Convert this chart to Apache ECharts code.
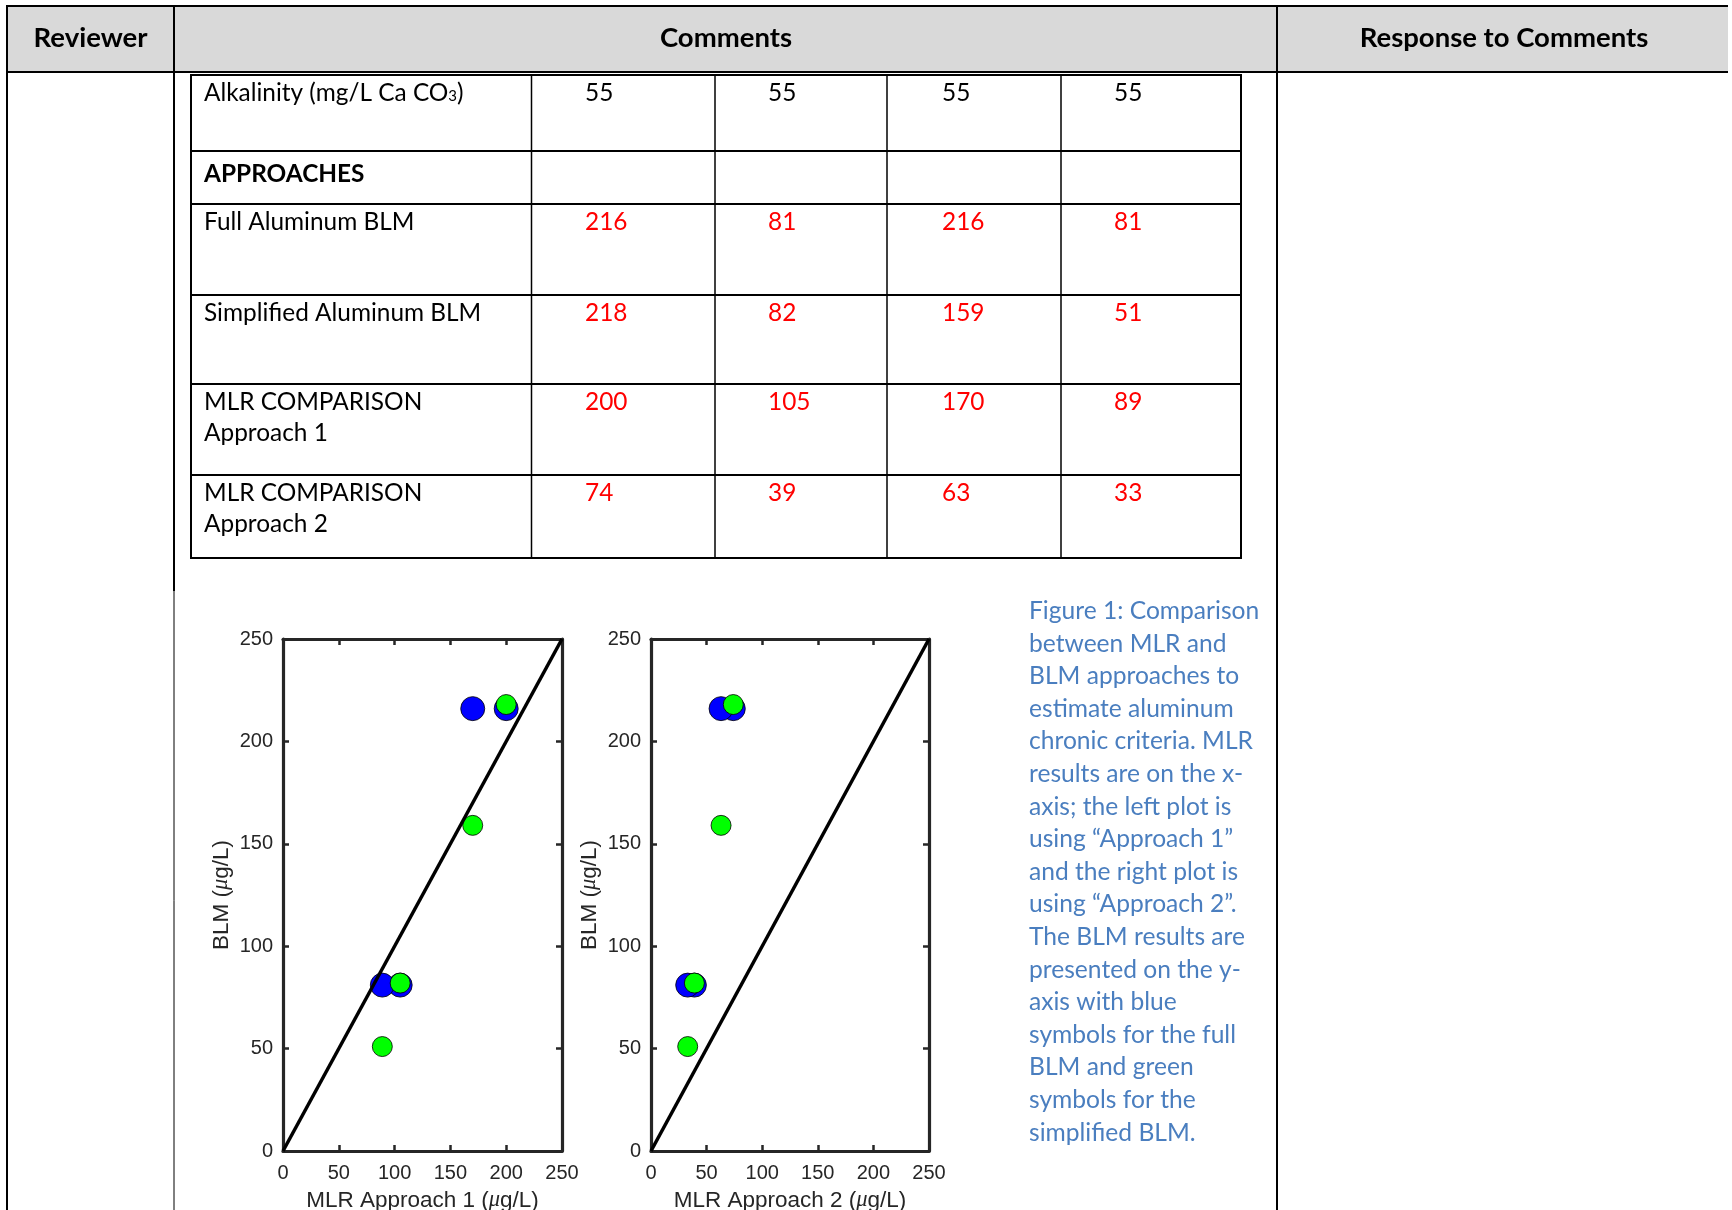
<!DOCTYPE html>
<html><head><meta charset="utf-8">
<script src="https://cdn.jsdelivr.net/npm/echarts@6/dist/echarts.min.js"></script>
<style>html,body{margin:0;padding:0;background:#fff;overflow:hidden}#c{width:1732px;height:1210px}</style>
</head><body><div id="c"></div>
<script>
// ---------- data ----------
const headers = ["Reviewer", "Comments", "Response to Comments"];
const rowLabels = [
  ["{n|Alkalinity (mg/L Ca CO}{s|3}{n|)}"],
  ["APPROACHES"],
  ["Full Aluminum BLM"],
  ["Simplified Aluminum BLM"],
  ["MLR COMPARISON", "Approach 1"],
  ["MLR COMPARISON", "Approach 2"]
];
const alkalinity    = [55, 55, 55, 55];
const fullBLM       = [216, 81, 216, 81];
const simplifiedBLM = [218, 82, 159, 51];
const mlrApproach1  = [200, 105, 170, 89];
const mlrApproach2  = [74, 39, 63, 33];
const tableRows = [alkalinity, null, fullBLM, simplifiedBLM, mlrApproach1, mlrApproach2];
const axisTicks = [0, 50, 100, 150, 200, 250];
const captionLines = [
  "Figure 1: Comparison", "between MLR and", "BLM approaches to", "estimate aluminum",
  "chronic criteria. MLR", "results are on the x-", "axis; the left plot is",
  "using \u201cApproach 1\u201d", "and the right plot is", "using \u201cApproach 2\u201d.",
  "The BLM results are", "presented on the y-", "axis with blue", "symbols for the full",
  "BLM and green", "symbols for the", "simplified BLM."
];

// ---------- layout ----------
const DOC_FONT = 'Lato';
const BODY = 24.4, HEAD = 27.5, CAP = 24.6;
const rowTops = [76, 151, 204, 295, 384, 475];
const rowTextY = [93, 174, 222, 313, 402, 493];
const colX = [191, 531.5, 715, 887, 1061, 1241];
const valX = [585, 768, 942, 1114];
const g = [];
function line(x1, y1, x2, y2, w, c) {
  g.push({type: 'line', silent: true, shape: {x1, y1, x2, y2}, style: {stroke: c || '#000', lineWidth: w}});
}
function text(t, x, y, opt) {
  opt = opt || {};
  g.push({type: 'text', silent: true, x, y, style: Object.assign({
    text: t, fontFamily: DOC_FONT, fontSize: BODY, fill: '#000',
    align: 'left', verticalAlign: 'middle'
  }, opt)});
}
// header background
g.push({type: 'rect', silent: true, shape: {x: 7, y: 6, width: 1721, height: 66}, style: {fill: '#d9d9d9'}});
line(6, 6, 1728, 6, 2);
line(6, 72, 1728, 72, 2);
line(7, 5, 7, 1210, 2);
line(174, 5, 174, 591, 2);
line(174, 591, 174, 1210, 1);
line(1277, 5, 1277, 1210, 2);
// inner table
g.push({type: 'rect', silent: true, shape: {x: 191, y: 75, width: 1050, height: 483}, style: {fill: 'none', stroke: '#000', lineWidth: 2}});
rowTops.slice(1).forEach(y => line(191, y, 1241, y, 2));
colX.slice(1, 5).forEach(x => line(x, 75, x, 558, 1.5));
// header texts
text(headers[0], 90.5, 38, {fontWeight: 'bold', fontSize: HEAD, align: 'center'});
text(headers[1], 726, 38, {fontWeight: 'bold', fontSize: HEAD, align: 'center'});
text(headers[2], 1504, 38, {fontWeight: 'bold', fontSize: HEAD, align: 'center'});
// rows
rowLabels.forEach((lines, i) => {
  lines.forEach((t, j) => {
    const o = {};
    if (i === 1) o.fontWeight = 'bold';
    if (t.indexOf('{') >= 0) {
      o.rich = {n: {fontFamily: DOC_FONT, fontSize: BODY, fill: '#000'}, s: {fontFamily: DOC_FONT, fontSize: 15, fill: '#000', padding: [6, 0, 0, 0]}};
    }
    text(t, 204, rowTextY[i] + j * 31, o);
  });
  const vals = tableRows[i];
  if (vals) vals.forEach((v, k) => text(String(v), valX[k], rowTextY[i], {fill: i === 0 ? '#000' : '#ff0000'}));
});
// caption
captionLines.forEach((t, i) => text(t, 1029, 611 + i * 32.6, {fill: '#4a7ebf', fontSize: CAP}));

// ---------- charts ----------
const AX = '#262626';
const tickFont = {fontFamily: 'Liberation Sans', fontSize: 20, color: AX};
const nameStyle = {fontFamily: 'Liberation Sans', fontSize: 22.5, color: AX,
  rich: {i: {fontFamily: 'Liberation Serif', fontStyle: 'italic', fontSize: 22.5, color: AX}}};
function valAxis(extra) {
  return Object.assign({
    type: 'value', min: axisTicks[0], max: axisTicks[axisTicks.length - 1], interval: axisTicks[1] - axisTicks[0],
    axisLine: {show: true, onZero: false, lineStyle: {color: AX, width: 3.2}},
    axisTick: {show: true, inside: true, length: 6, lineStyle: {color: AX, width: 2.5}},
    splitLine: {show: false}
  }, extra);
}
const grids = [
  {left: 283, top: 639, width: 279, height: 512, containLabel: false, outerBoundsMode: 'none'},
  {left: 651, top: 639, width: 278, height: 512, containLabel: false, outerBoundsMode: 'none'}
];
const xAxes = [], yAxes = [], series = [];
[mlrApproach1, mlrApproach2].forEach((mlr, gi) => {
  xAxes.push(valAxis({gridIndex: gi, position: 'bottom',
    name: 'MLR Approach ' + (gi + 1) + ' ({i|\u03bc}g/L)', nameLocation: 'middle', nameGap: 38, nameTextStyle: nameStyle,
    axisLabel: Object.assign({margin: 12}, tickFont)}));
  xAxes.push(valAxis({gridIndex: gi, position: 'top', axisLabel: {show: false}}));
  yAxes.push(valAxis({gridIndex: gi, position: 'left',
    name: 'BLM ({i|\u03bc}g/L)', nameLocation: 'middle', nameGap: 50, nameTextStyle: nameStyle,
    axisLabel: Object.assign({margin: 10}, tickFont)}));
  yAxes.push(valAxis({gridIndex: gi, position: 'right', axisLabel: {show: false}}));
  const xi = gi * 2, yi = gi * 2;
  series.push({type: 'scatter', xAxisIndex: xi, yAxisIndex: yi, symbolSize: 24, z: 2,
    itemStyle: {color: '#0000ff', borderColor: '#000', borderWidth: 0.8, opacity: 1},
    data: mlr.map((x, k) => [x, fullBLM[k]])});
  series.push({type: 'scatter', xAxisIndex: xi, yAxisIndex: yi, symbolSize: 20, z: 3,
    itemStyle: {color: '#00ff00', borderColor: '#000', borderWidth: 0.8, opacity: 1},
    data: mlr.map((x, k) => [x, simplifiedBLM[k]])});
  series.push({type: 'line', xAxisIndex: xi, yAxisIndex: yi, z: 4, symbol: 'none',
    lineStyle: {color: '#000', width: 3.5}, data: [[axisTicks[0], axisTicks[0]], [axisTicks[5], axisTicks[5]]]});
});

const chart = echarts.init(document.getElementById('c'), null, {renderer: 'canvas'});
chart.setOption({
  animation: false,
  backgroundColor: '#fff',
  grid: grids,
  xAxis: xAxes,
  yAxis: yAxes,
  series: series,
  graphic: {elements: g}
});
</script></body></html>
